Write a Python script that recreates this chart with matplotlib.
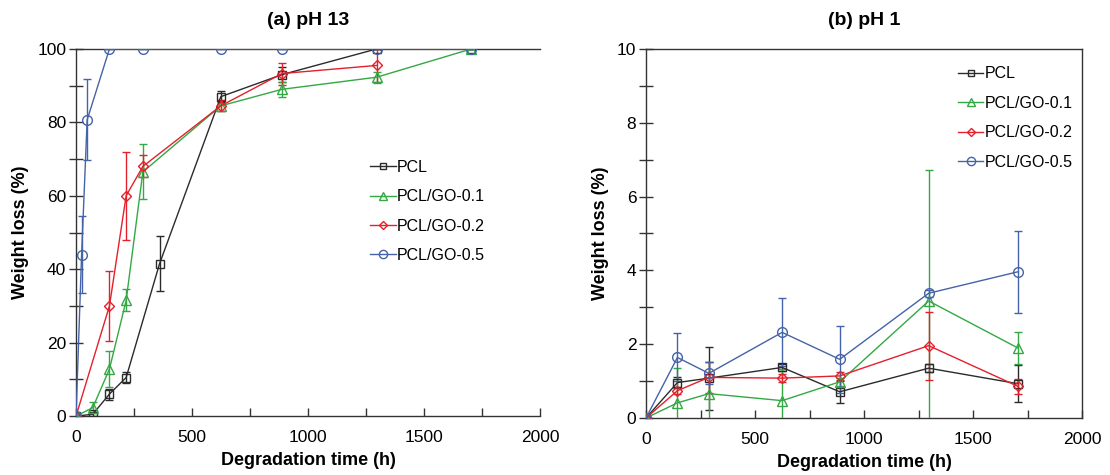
import numpy as np
import matplotlib
matplotlib.use('Agg')
import matplotlib.pyplot as plt
from matplotlib.ticker import MultipleLocator
from matplotlib.lines import Line2D

plt.rcParams['font.family'] = ['Liberation Sans', 'DejaVu Sans']

labels = ['PCL', 'PCL/GO-0.1', 'PCL/GO-0.2', 'PCL/GO-0.5']
colors = ['#2b2b2b', '#33a844', '#e3202b', '#4563a8']
markers = ['s', '^', 'D', 'o']
msizes = [5.5, 6.5, 5, 7]

# (a) pH 13
t13_pcl = [0, 72, 144, 216, 360, 624, 888, 1296, 1704]
w13_pcl = [0, 0.5, 6, 10.5, 41.5, 87, 93, 100, 100]
e13_pcl = [0, 0.5, 1.5, 1.5, 7.5, 1.5, 2, 0, 0]

t13_go1 = [0, 72, 144, 216, 288, 624, 888, 1296, 1704]
w13_go1 = [0, 2.3, 12.8, 31.5, 66.5, 84.5, 89, 92.3, 100]
e13_go1 = [0, 1.5, 5, 3, 7.5, 1.5, 2, 1.5, 0]

t13_go2 = [0, 144, 216, 288, 624, 888, 1296]
w13_go2 = [0, 30, 60, 68, 84.5, 93.3, 95.5]
e13_go2 = [0, 9.5, 12, 3, 1.5, 3, 4.5]

t13_go5 = [0, 24, 48, 144, 288, 624, 888, 1296, 1704]
w13_go5 = [0, 44, 80.7, 100, 100, 100, 100, 100, 100]
e13_go5 = [0, 10.5, 11, 0, 0, 0, 0, 0, 0]

# (b) pH 1
t1 = [0, 144, 288, 624, 888, 1296, 1704]
w1_pcl = [0, 0.96, 1.08, 1.37, 0.71, 1.35, 0.93]
e1_pcl = [0, 0.15, 0.85, 0.1, 0.3, 0.1, 0.5]
w1_go1 = [0, 0.41, 0.66, 0.47, 0.98, 3.17, 1.9]
e1_go1 = [0, 0.95, 0.85, 0.85, 0.1, 3.55, 0.44]
w1_go2 = [0, 0.74, 1.1, 1.08, 1.14, 1.96, 0.86]
e1_go2 = [0, 0.1, 0.42, 0.1, 0.1, 0.92, 0.2]
w1_go5 = [0, 1.64, 1.21, 2.32, 1.59, 3.38, 3.96]
e1_go5 = [0, 0.65, 0.3, 0.92, 0.9, 0.1, 1.11]

fig = plt.figure(figsize=(11.1, 4.75), dpi=100)
ax1 = fig.add_axes([0.0685, 0.124, 0.418, 0.773])
ax2 = fig.add_axes([0.582, 0.12, 0.393, 0.777])

sets13 = [(t13_pcl, w13_pcl, e13_pcl), (t13_go1, w13_go1, e13_go1),
          (t13_go2, w13_go2, e13_go2), (t13_go5, w13_go5, e13_go5)]
sets1 = [(t1, w1_pcl, e1_pcl), (t1, w1_go1, e1_go1),
         (t1, w1_go2, e1_go2), (t1, w1_go5, e1_go5)]


def draw(ax, sets):
    for (t, w, e), c, m, ms in zip(sets, colors, markers, msizes):
        ax.errorbar(t, w, yerr=e, color=c, marker=m, mfc='none', mec=c,
                    ms=ms, lw=1, elinewidth=1, capsize=3, capthick=1,
                    zorder=3)


draw(ax1, sets13)
draw(ax2, sets1)

handles = [Line2D([], [], color=c, marker=m, mfc='none', mec=c, ms=ms * 0.85, lw=1)
           for c, m, ms in zip(colors, markers, msizes)]

for ax, ymax, ystep, title in [(ax1, 100, 20, '(a) pH 13'), (ax2, 10, 2, '(b) pH 1')]:
    ax.set_xlim(0, 2000)
    ax.set_ylim(0, ymax)
    ax.xaxis.set_major_locator(MultipleLocator(500))
    ax.xaxis.set_minor_locator(MultipleLocator(250))
    ax.yaxis.set_major_locator(MultipleLocator(ystep))
    ax.yaxis.set_minor_locator(MultipleLocator(ystep / 2))
    ax.tick_params(axis='x', which='both', direction='in', length=6, width=1,
                   labelsize=12.5, pad=10, color='#333333')
    ax.tick_params(axis='y', which='both', direction='inout', length=10, width=1,
                   labelsize=12.5, pad=2, color='#333333')
    ax.set_xlabel('Degradation time (h)', fontsize=13, fontweight='bold', labelpad=5)
    ax.set_ylabel('Weight loss (%)', fontsize=13, fontweight='bold', labelpad=6)
    ax.set_title(title, fontsize=14, fontweight='bold', pad=17)
    for s in ax.spines.values():
        s.set_color('#333333')
        s.set_linewidth(1)

ax1.spines['right'].set_visible(False)

ax1.legend(handles, labels, loc='upper left', bbox_to_anchor=(0.62, 0.715), frameon=False,
           fontsize=11.5, handlelength=1.6, handletextpad=0.1,
           labelspacing=0.9, borderaxespad=0)
ax2.legend(handles, labels, loc='upper left', bbox_to_anchor=(0.70, 0.97), frameon=False,
           fontsize=11.5, handlelength=1.6, handletextpad=0.1,
           labelspacing=0.9, borderaxespad=0)

fig.savefig('out.png', dpi=100)
